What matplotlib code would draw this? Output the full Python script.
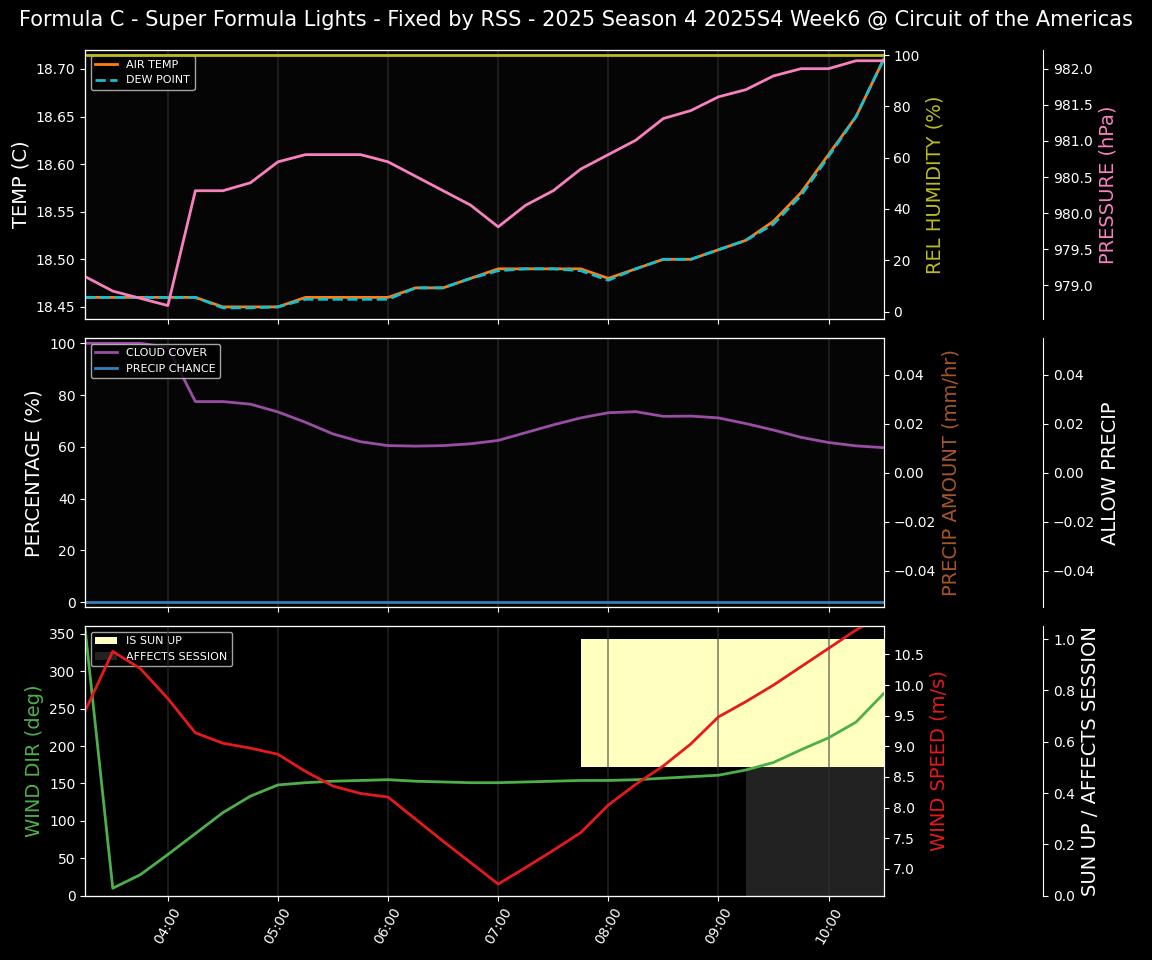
import matplotlib
matplotlib.use("Agg")
import matplotlib.pyplot as plt
import matplotlib.dates as mdates
import numpy as np
from datetime import datetime, timedelta

plt.style.use("dark_background")

times = [datetime(2025, 1, 1, 3, 15) + timedelta(minutes=15 * i) for i in range(30)]

air_temp = [18.46, 18.46, 18.46, 18.46, 18.46, 18.45, 18.45, 18.45, 18.46, 18.46,
            18.46, 18.46, 18.47, 18.47, 18.48, 18.49, 18.49, 18.49, 18.49, 18.48,
            18.49, 18.50, 18.50, 18.51, 18.52, 18.54, 18.57, 18.61, 18.65, 18.71]
dew_point = [18.46, 18.46, 18.46, 18.46, 18.46, 18.449, 18.449, 18.45, 18.458, 18.458,
             18.458, 18.458, 18.47, 18.47, 18.48, 18.488, 18.49, 18.49, 18.488, 18.478,
             18.49, 18.50, 18.50, 18.51, 18.52, 18.537, 18.567, 18.608, 18.65, 18.71]
humidity = [100] * 30
pressure = [979.12, 978.92, 978.82, 978.72, 980.31, 980.31, 980.42, 980.71, 980.81, 980.81,
            980.81, 980.71, 980.51, 980.31, 980.11, 979.81, 980.11, 980.31, 980.61, 980.81,
            981.01, 981.31, 981.42, 981.61, 981.71, 981.9, 982.0, 982.0, 982.11, 982.11]
cloud = [100, 100, 100, 98.5, 77.5, 77.5, 76.5, 73.5, 69.5, 65, 62, 60.5, 60.3, 60.5, 61.2,
         62.5, 65.5, 68.5, 71.2, 73.2, 73.6, 71.8, 71.9, 71.2, 69, 66.5, 63.7, 61.7, 60.4, 59.7]
precip_chance = [0] * 30
precip_amount = [0] * 30
wind_dir = [355, 10, 28, 55, 83, 111, 133, 148, 151, 153, 154, 155, 153, 152, 151, 151, 152,
            153, 154, 154, 155, 157, 159, 161, 168, 178, 195, 211, 232, 270]
wind_speed = [9.58, 10.55, 10.27, 9.78, 9.22, 9.05, 8.97, 8.87, 8.59, 8.35, 8.23, 8.17, 7.81,
              7.45, 7.10, 6.75, 7.02, 7.30, 7.59, 8.04, 8.38, 8.68, 9.04, 9.48, 9.73, 10.0,
              10.3, 10.6, 10.9, 11.15]
sun_up = [0] * 18 + [1] * 12
affects = [0] * 24 + [1] * 6

fig, axes = plt.subplots(3, 1, figsize=(11.52, 9.6), dpi=100, sharex=True)
fig.subplots_adjust(left=0.074, right=0.767, top=0.948, bottom=0.067, hspace=0.07)
fig.suptitle("Formula C - Super Formula Lights - Fixed by RSS - 2025 Season 4 2025S4 Week6 @ Circuit of the Americas",
             fontsize=15, y=0.99)
for ax in axes:
    ax.set_facecolor("#050505")
    ax.grid(axis="x", color="#333333", alpha=0.6, linewidth=1.2)
    ax.set_xlim(times[0], times[-1])

# panel 1
ax = axes[0]
ax.plot(times, air_temp, color="#ff7f0e", lw=2, label="AIR TEMP")
ax.plot(times, dew_point, color="#17becf", lw=2, ls="--", label="DEW POINT")
ax.set_ylabel("TEMP (C)", fontsize=14)
ax.set_ylim(18.437, 18.72)
ax.legend(loc="upper left", fontsize=8)
h = ax.twinx()
h.plot(times, humidity, color="#bcbd22", lw=2)
h.set_ylim(-3, 102)
h.set_ylabel("REL HUMIDITY (%)", color="#bcbd22", fontsize=14)
p = ax.twinx()
p.spines["right"].set_position(("axes", 1.2))
p.plot(times, pressure, color="#f781bf", lw=2)
p.set_ylim(978.53, 982.26)
p.set_ylabel("PRESSURE (hPa)", color="#f781bf", fontsize=14)

# panel 2
ax = axes[1]
ax.plot(times, cloud, color="#984ea3", lw=2, label="CLOUD COVER")
ax.plot(times, precip_chance, color="#377eb8", lw=2, label="PRECIP CHANCE")
ax.set_ylim(-2, 102)
ax.set_ylabel("PERCENTAGE (%)", fontsize=14)
ax.legend(loc="upper left", fontsize=8)
pa = ax.twinx()
pa.plot(times, precip_amount, color="#a65628", lw=0)
pa.set_ylim(-0.055, 0.055)
pa.set_ylabel("PRECIP AMOUNT (mm/hr)", color="#a65628", fontsize=14)
al = ax.twinx()
al.spines["right"].set_position(("axes", 1.2))
al.set_ylim(-0.055, 0.055)
al.set_ylabel("ALLOW PRECIP", fontsize=14)

# panel 3
ax = axes[2]
ax.plot(times, wind_dir, color="#4daf4a", lw=2, zorder=3)
ax.set_ylim(0, 360)
ax.set_ylabel("WIND DIR (deg)", color="#4daf4a", fontsize=14)
ws = ax.twinx()
ws.plot(times, wind_speed, color="#e41a1c", lw=2)
ws.set_ylim(6.56, 10.96)
ws.set_ylabel("WIND SPEED (m/s)", color="#e41a1c", fontsize=14)
su = ax.twinx()
su.spines["right"].set_position(("axes", 1.2))
su.fill_between(times, 0.5, 1, where=np.array(sun_up) > 0, step="post", color="#ffffc0", label="IS SUN UP", lw=0)
su.fill_between(times, 0, 0.5, where=np.array(affects) > 0, step="post", color="#222222", label="AFFECTS SESSION", lw=0)
su.set_ylim(0, 1.05)
su.set_ylabel("SUN UP / AFFECTS SESSION", fontsize=14)
su.legend(loc="upper left", fontsize=8)
ax.set_zorder(su.get_zorder() + 1)
ax.patch.set_visible(False)
ws.set_zorder(ax.get_zorder() + 1)

ax.xaxis.set_major_locator(mdates.HourLocator())
ax.xaxis.set_major_formatter(mdates.DateFormatter("%H:%M"))
plt.setp(ax.get_xticklabels(), rotation=60)

fig.savefig("out.png", facecolor="black")
